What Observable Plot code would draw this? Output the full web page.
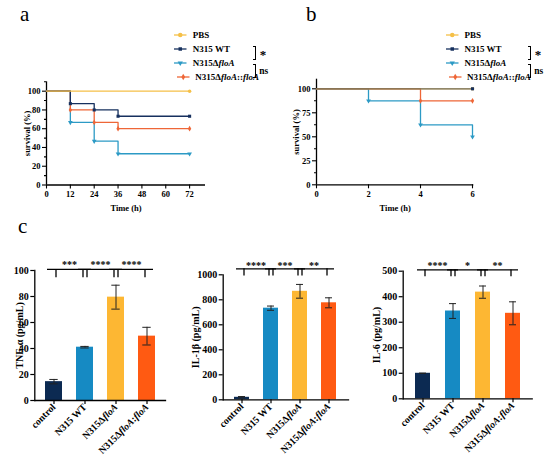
<!DOCTYPE html>
<html><head><meta charset="utf-8">
<script src="https://cdn.jsdelivr.net/npm/d3@7"></script>
<script src="https://cdn.jsdelivr.net/npm/@observablehq/plot@0.6"></script>
<style>
html,body{margin:0;padding:0;background:#fff;}
#fig{position:relative;width:550px;height:466px;overflow:hidden;background:#fff;font-family:"Liberation Serif",Tinos,"DejaVu Serif",serif;color:#000;}
.letter{position:absolute;font-size:21px;line-height:1;}
.lrow{position:absolute;height:14px;display:flex;align-items:center;font-weight:bold;font-size:9px;white-space:nowrap;}
.lrow svg{display:block;}
.brk{position:absolute;box-sizing:border-box;border-top:1px solid #000;border-right:1px solid #000;border-bottom:1px solid #000;}
.sig{position:absolute;font-weight:bold;line-height:1;}
</style></head>
<body><div id="fig"></div>
<script>
// ---------- DATA ----------
const groupsKM = ["PBS", "N315 WT", "N315ΔfloA", "N315ΔfloA::floA"];
const kmColors = ["#F5C048", "#16305E", "#2C9AC5", "#EE6637"];
const kmSymbols = ["circle", "square", "triangle", "diamond"];

const timeA = [0, 12, 24, 36, 72];
const survA_PBS = [100, 100, 100, 100, 100];
const survA_WT = [100, 86.7, 80, 73.3, 73.3];
const survA_Del = [100, 66.7, 46.7, 33.3, 33.3];
const survA_Comp = [100, 80, 66.7, 60, 60];
const xTicksA = [0, 12, 24, 36, 48, 60, 72];
const yTicksA = [0, 20, 40, 60, 80, 100];
const yMinorA = [10, 30, 50, 70, 90, 110];

const timeB = [0, 2, 4, 6];
const survB_PBS = [100, 100, 100, 100];
const survB_WT = [100, 100, 100, 100];
const survB_Del = [100, 87.5, 62.5, 50];
const survB_Comp = [100, 100, 87.5, 87.5];
const xTicksB = [0, 2, 4, 6];
const yTicksB = [0, 25, 50, 75, 100];
const yMinorB = [12.5, 37.5, 62.5, 87.5];

const cats = ["control", "N315 WT", "N315ΔfloA", "N315ΔfloA:floA"];
const barColors = ["#0C2A52", "#168AC3", "#FDB733", "#FF5A12"];
const tnfMean = [14.5, 41, 79.5, 49.5];
const tnfSD = [1.7, 0.6, 9.2, 6.8];
const il1Mean = [20, 733, 868, 776];
const il1SD = [6, 17, 55, 40];
const il6Mean = [100, 344, 418, 335];
const il6SD = [0, 29, 24, 45];
const sigPairs = [["control", "N315 WT"], ["N315 WT", "N315ΔfloA"], ["N315ΔfloA", "N315ΔfloA:floA"]];
const tnfSig = ["***", "****", "****"];
const il1Sig = ["****", "***", "**"];
const il6Sig = ["****", "*", "**"];
// bracket [top, leg bottom, label level] in data units
const tnfBracket = [100.8, 94.5, 104.6];
const il1Bracket = [1048, 990, 1074];
const il6Bracket = [505, 478, 522];
const tnfTicks = [0, 20, 40, 60, 80, 100];
const il1Ticks = [0, 200, 400, 600, 800, 1000];
const il6Ticks = [0, 100, 200, 300, 400, 500];

// ---------- HELPERS ----------
const SERIF = '"Liberation Serif", Tinos, "DejaVu Serif", serif';
const NS = "http://www.w3.org/2000/svg";
const fig = document.getElementById("fig");
const baseStyle = {fontFamily: SERIF, fontWeight: "bold", color: "#000", background: "transparent", overflow: "visible"};
const fmt = d3.format("d");

function place(el, left, top) {
  el.style.position = "absolute";
  el.style.left = left + "px";
  el.style.top = top + "px";
  fig.appendChild(el);
}

function italicize(svg) {
  svg.querySelectorAll("text").forEach(t => {
    const s = t.textContent;
    if (!s.includes("floA") || t.children.length) return;
    t.textContent = "";
    s.split(/(floA)/).forEach(part => {
      if (!part) return;
      const ts = document.createElementNS(NS, "tspan");
      if (part === "floA") ts.setAttribute("font-style", "italic");
      ts.textContent = part;
      t.appendChild(ts);
    });
  });
}

function kmRows(times, seriesVals, order) {
  const rows = [];
  order.forEach(k => {
    const vals = seriesVals[k];
    vals.forEach((v, i) => rows.push({
      group: groupsKM[k], t: times[i], s: v,
      event: i > 0 && (v !== vals[i - 1] || i === vals.length - 1)
    }));
  });
  return rows;
}

function kmPlot(o) {
  const rows = kmRows(o.times, o.vals, o.order);
  return Plot.plot({
    width: o.width, height: o.height,
    marginLeft: o.m[0], marginRight: o.m[1], marginTop: o.m[2], marginBottom: o.m[3],
    style: baseStyle,
    x: {domain: o.xDomain},
    y: {domain: o.yDomain},
    color: {domain: groupsKM, range: kmColors},
    symbol: {domain: groupsKM, range: kmSymbols},
    marks: [
      Plot.axisY({ticks: o.yTicks, tickFormat: fmt, tickSize: 4, tickPadding: 2, fontSize: 8.5, strokeWidth: 1.1,
        label: "survival (%)", labelAnchor: "center", labelArrow: "none", labelOffset: o.ylo}),
      Plot.axisY({ticks: o.yMinor, tickSize: 2, strokeWidth: 1.1, tickFormat: () => "", label: null}),
      Plot.axisX({ticks: o.xTicks, tickFormat: fmt, tickSize: 4, tickPadding: 2, fontSize: 8.5, strokeWidth: 1.1,
        label: "Time (h)", labelAnchor: "center", labelArrow: "none", labelOffset: o.xlo}),
      Plot.ruleX([o.xDomain[0]], {y1: o.yDomain[0], y2: o.yDomain[1], strokeWidth: 1.3}),
      Plot.ruleY([o.yDomain[0]], {x1: o.xDomain[0], x2: o.xDomain[1], strokeWidth: 1.3}),
      Plot.line(rows, {x: "t", y: "s", z: "group", stroke: "group", curve: "step-after", strokeWidth: 1.3,
        strokeOpacity: d => (o.dim && d.group === o.dim) ? 0.6 : 1}),
      Plot.dot(rows.filter(d => d.event), {x: "t", y: "s", fill: "group", symbol: "group",
        r: 1.75, rotate: d => d.group === groupsKM[2] ? 180 : 0})
    ]
  });
}

function barPlot(o) {
  const data = cats.map((c, i) => ({cat: c, mean: o.means[i], sd: o.sds[i]}));
  const br = sigPairs.map((p, i) => ({from: p[0], to: p[1], label: o.sig[i],
    top: o.bracket[0], bottom: o.bracket[1], ly: o.bracket[2]}));
  const inner = o.width - o.m[0] - o.m[1];
  const step = inner / (cats.length - o.pi + 2 * o.po);
  const svg = Plot.plot({
    width: o.width, height: o.height,
    marginLeft: o.m[0], marginRight: o.m[1], marginTop: o.m[2], marginBottom: o.m[3],
    style: baseStyle,
    x: {domain: cats, paddingInner: o.pi, paddingOuter: o.po},
    y: {domain: o.yDomain},
    color: {domain: cats, range: barColors},
    marks: [
      Plot.barY(data, {x: "cat", y: "mean", fill: "cat"}),
      Plot.ruleX(data, {x: "cat", y1: d => d.mean - d.sd, y2: d => d.mean + d.sd, stroke: "#222", strokeWidth: 1}),
      Plot.tickY(data, {x: "cat", y: d => d.mean + d.sd, insetLeft: o.cap, insetRight: o.cap, stroke: "#222", strokeWidth: 1}),
      Plot.tickY(data, {x: "cat", y: d => d.mean - d.sd, insetLeft: o.cap, insetRight: o.cap, stroke: "#222", strokeWidth: 1}),
      Plot.frame({anchor: "left", strokeWidth: 1.3}),
      Plot.frame({anchor: "bottom", strokeWidth: 1.3}),
      Plot.axisY({ticks: o.yTicks, tickFormat: fmt, tickSize: 4, tickPadding: 2, fontSize: 10, strokeWidth: 1.2,
        label: o.label, labelAnchor: "center", labelArrow: "none", labelOffset: o.lo}),
      Plot.axisX({tickSize: 4, tickPadding: 1, fontSize: 9.8, strokeWidth: 1.2, tickRotate: -45, label: null}),
      Plot.ruleY(br, {x1: "from", x2: "to", y: "top", insetLeft: 2, insetRight: 2, strokeWidth: 1.3}),
      Plot.ruleX(br, {x: "from", y1: "top", y2: "bottom", dx: 2, strokeWidth: 1.3}),
      Plot.ruleX(br, {x: "to", y1: "top", y2: "bottom", dx: -2, strokeWidth: 1.3}),
      Plot.text(br, {x: "to", y: "ly", text: "label", dx: -step / 2, fontSize: 10, lineAnchor: "middle"})
    ]
  });
  italicize(svg);
  return svg;
}

function addLegend(x0, lastShift, brX) {
  const rowY = [35, 49, 63.3, 77.3];
  const symTypes = [d3.symbolCircle, d3.symbolSquare, d3.symbolTriangle, d3.symbolDiamond];
  const symSize = [16, 12, 12, 12];
  groupsKM.forEach((g, k) => {
    const row = document.createElement("div");
    row.className = "lrow";
    const sw = document.createElementNS(NS, "svg");
    sw.setAttribute("width", 13); sw.setAttribute("height", 14);
    const ln = document.createElementNS(NS, "line");
    ln.setAttribute("x1", 0); ln.setAttribute("x2", 12.5); ln.setAttribute("y1", 7); ln.setAttribute("y2", 7);
    ln.setAttribute("stroke", kmColors[k]); ln.setAttribute("stroke-width", 1.3);
    sw.appendChild(ln);
    const p = document.createElementNS(NS, "path");
    p.setAttribute("d", d3.symbol(symTypes[k], symSize[k])());
    p.setAttribute("fill", kmColors[k]);
    p.setAttribute("transform", `translate(6.25,7) rotate(${k === 2 ? 180 : 0})`);
    sw.appendChild(p);
    row.appendChild(sw);
    const span = document.createElement("span");
    span.style.marginLeft = "5.5px";
    span.innerHTML = g.replace(/floA/g, "<i>floA</i>");
    row.appendChild(span);
    place(row, x0 + (k === 3 ? lastShift : 0), rowY[k] - 7);
  });
  const b1 = document.createElement("div");
  b1.className = "brk"; b1.style.width = "3.5px"; b1.style.height = "14px";
  place(b1, brX - 3, 45.5);
  const b2 = document.createElement("div");
  b2.className = "brk"; b2.style.width = "3.5px"; b2.style.height = "13.5px";
  place(b2, brX - 3, 64.3);
  const s1 = document.createElement("div");
  s1.className = "sig"; s1.style.fontSize = "13px"; s1.textContent = "*";
  place(s1, brX + 4, 48);
  const s2 = document.createElement("div");
  s2.className = "sig"; s2.style.fontSize = "9.5px"; s2.textContent = "ns";
  place(s2, brX + 3.5, 66.5);
}

// ---------- PANELS ----------
const pa = kmPlot({
  times: timeA, vals: [survA_PBS, survA_WT, survA_Del, survA_Comp], order: [2, 3, 1, 0],
  width: 275, height: 220, m: [46, 70, 81.3, 35.5],
  xDomain: [0, 80], yDomain: [0, 110], xTicks: xTicksA, yTicks: yTicksA, yMinor: yMinorA,
  ylo: 23, xlo: 26
});
place(pa, 0, 0);

const pb = kmPlot({
  times: timeB, vals: [survB_PBS, survB_WT, survB_Del, survB_Comp], order: [2, 3, 0, 1], dim: groupsKM[1],
  width: 275, height: 220, m: [41, 76.7, 78.7, 35.7],
  xDomain: [0, 6.05], yDomain: [0, 110], xTicks: xTicksB, yTicks: yTicksB, yMinor: yMinorB,
  ylo: 24, xlo: 26
});
place(pb, 275, 0);

const c1 = barPlot({means: tnfMean, sds: tnfSD, sig: tnfSig, bracket: tnfBracket, yTicks: tnfTicks,
  yDomain: [0, 100], label: "TNF-α (pg/mL)", lo: 19,
  width: 180, height: 246, m: [34.3, 15, 50, 66], pi: 0.45, po: 0.325, cap: 4.3});
place(c1, 0, 220);

const c2 = barPlot({means: il1Mean, sds: il1SD, sig: il1Sig, bracket: il1Bracket, yTicks: il1Ticks,
  yDomain: [0, 1000], label: "IL-1β (pg/mL)", lo: 31,
  width: 180, height: 246, m: [42.7, 12, 54.3, 66.7], pi: 0.467, po: 0.322, cap: 4});
place(c2, 180, 220);

const c3 = barPlot({means: il6Mean, sds: il6SD, sig: il6Sig, bracket: il6Bracket, yTicks: il6Ticks,
  yDomain: [0, 500], label: "IL-6 (pg/mL)", lo: 30,
  width: 190, height: 246, m: [42.7, 18.3, 50.7, 67.7], pi: 0.49, po: 0.34, cap: 4});
place(c3, 360, 220);

addLegend(174.3, 2.5, 255.7);
addLegend(446, 2.5, 530.7);

[["a", 20, 4], ["b", 306, 4], ["c", 18, 216]].forEach(([t, x, y]) => {
  const d = document.createElement("div");
  d.className = "letter"; d.textContent = t;
  place(d, x, y);
});
</script>
</body></html>
